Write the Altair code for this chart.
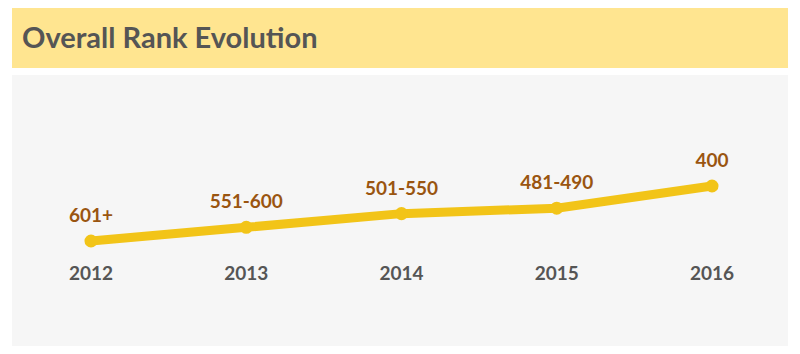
import altair as alt
import pandas as pd

years = ["2012", "2013", "2014", "2015", "2016"]
rank_values = [601, 551, 501, 481, 400]
rank_labels = ["601+", "551-600", "501-550", "481-490", "400"]
title_text = "Overall Rank Evolution"

df = pd.DataFrame({"year": years, "rank": rank_values, "label": rank_labels})

FONT = "Lato"
xs = alt.X("year:O", scale=alt.Scale(type="point", range=[91, 712], padding=0), axis=None)
ys = alt.Y("rank:Q", scale=alt.Scale(domain=[601, 400], range=[241, 186]), axis=None)

base = alt.Chart(df)

header = base.mark_rect(color="#FFE590").encode(
    x=alt.value(12), x2=alt.value(788), y=alt.value(8), y2=alt.value(68)
)
panel = base.mark_rect(color="#F6F6F6").encode(
    x=alt.value(12), x2=alt.value(788), y=alt.value(75), y2=alt.value(346)
)
title = alt.Chart(pd.DataFrame({"t": [title_text]})).mark_text(
    font=FONT, fontSize=29, fontWeight="bold", color="#555555", align="left", baseline="middle"
).encode(x=alt.value(22), y=alt.value(39), text="t:N")

line = base.mark_line(color="#F2C418", strokeWidth=9, strokeCap="round").encode(x=xs, y=ys)
points = base.mark_circle(color="#F2C418", size=170, opacity=1).encode(x=xs, y=ys)
labels = base.mark_text(
    font=FONT, fontSize=19, fontWeight="bold", color="#9A5510", baseline="middle", dy=-25
).encode(x=xs, y=ys, text="label:N")
year_labels = base.mark_text(
    font=FONT, fontSize=19, fontWeight="bold", color="#555555", baseline="middle"
).encode(x=xs, y=alt.value(274), text="year:N")

chart = alt.layer(header, panel, title, line, points, labels, year_labels).properties(
    width=800, height=354, autosize=alt.AutoSizeParams(type="none"), padding=0, background="white"
).configure_view(stroke=None)

chart.save("out.html", embed_options={"renderer": "svg", "actions": False})
